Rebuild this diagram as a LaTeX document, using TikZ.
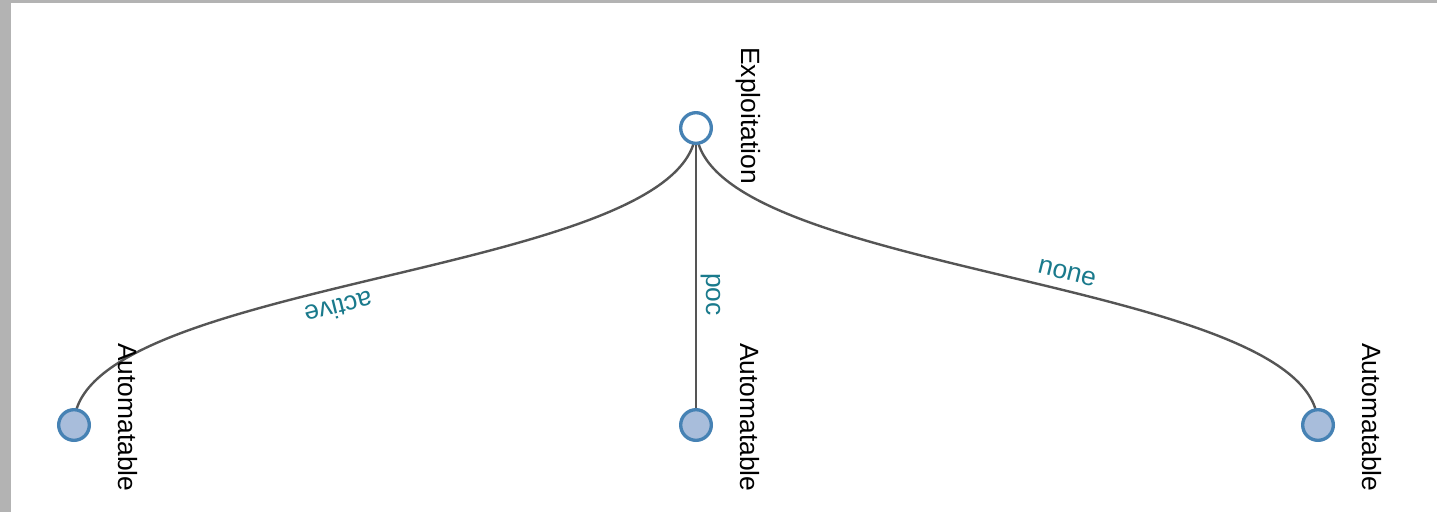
\documentclass[tikz,border=0pt]{standalone}
\usepackage{fontspec}
\setmainfont{Liberation Sans}
\usetikzlibrary{positioning,calc,backgrounds}
\definecolor{nodeedge}{HTML}{4682B4}
\definecolor{nodefill}{HTML}{A8BDDB}
\definecolor{linkgray}{HTML}{555555}
\definecolor{linktext}{HTML}{1A7A8C}
\definecolor{framegray}{HTML}{B3B3B3}

\begin{document}
\begin{tikzpicture}[x=0.75pt, y=-0.75pt, on grid=true,
    node/.style = {draw=nodeedge, circle, line width=2.5pt, minimum size=23pt, inner sep=0pt, fill=nodefill},
    nodetext/.style = {rotate=-90, anchor=base west, inner sep=0pt, font=\fontsize{19.8}{23}\selectfont},
    link/.style = {draw=linkgray, line width=1.8pt},
    choice/.style = {sloped, allow upside down, anchor=base, yshift=8pt, inner sep=0pt, text=linktext, font=\fontsize{19.8}{23}\selectfont}]
      \node[node,fill=white] (expl) at (696,128) {};
      \node[node] (auto2) [below=222.75pt of expl] {};
      \node[node] (auto1) [left=466.5pt of auto2] {};
      \node[node] (auto3) [right=466.5pt of auto2] {};

      \node[nodetext] (t0) at ($(expl)+(45,-81)$) {Exploitation};
      \node[nodetext] (t1) at ($(auto1)+(44,-82)$) {Automatable};
      \node[nodetext] (t2) at ($(auto2)+(44,-82)$) {Automatable};
      \node[nodetext] (t3) at ($(auto3)+(44,-82)$) {Automatable};

      \begin{scope}[on background layer]
      \fill[white] (0,0) rectangle (1437,512);
      \fill[framegray] (0,0) rectangle (11,512);
      \fill[framegray] (0,0) rectangle (1437,3);

      \draw[link] (expl.center) .. controls +(0,148.5) and +(0,-148.5) .. (auto1.center) node[choice,pos=0.555] {active};
      \draw[link] (expl.center) -- (auto2.center) node[choice,pos=0.56] {poc};
      \draw[link] (expl.center) .. controls +(0,148.5) and +(0,-148.5) .. (auto3.center) node[choice,pos=0.56] {none};
      \end{scope}
    \end{tikzpicture}
\end{document}
